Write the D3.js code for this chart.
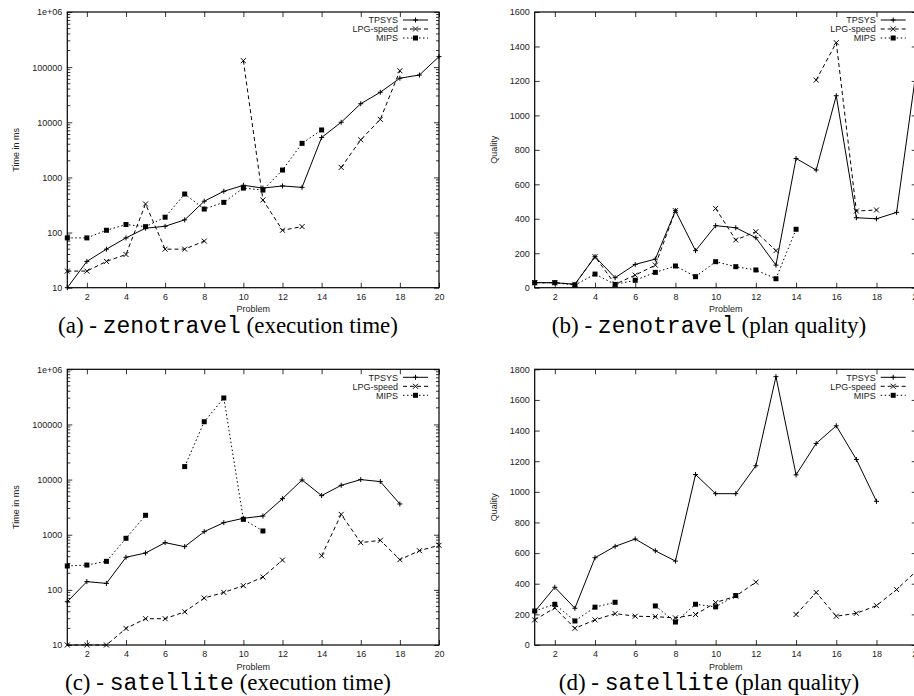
<!DOCTYPE html>
<html><head><meta charset="utf-8">
<script src="https://cdn.jsdelivr.net/npm/d3@7"></script>
<style>
body{margin:0;background:#fff;}
svg{display:block;}
text{font-family:"Liberation Sans",Arial,sans-serif;}
</style></head>
<body><svg id="c" width="914" height="696"></svg>
<script>
const problems = d3.range(1, 21);
const seriesNames = ["TPSYS", "LPG-speed", "MIPS"];
const xTicks = [2,4,6,8,10,12,14,16,18,20];
const logTicks = [10,100,1000,10000,100000,1000000];
const logTickLabels = ["10","100","1000","10000","100000","1e+06"];
const qualityTicksB = [0,200,400,600,800,1000,1200,1400,1600];
const qualityTicksD = [0,200,400,600,800,1000,1200,1400,1600,1800];

// (a) zenotravel execution time (ms)
const zenoTimeTPSYS = [10,30,50,80,120,130,170,370,560,720,640,700,660,5300,10000,21700,35000,63000,72000,155000];
const zenoTimeLPG   = [20,20,30,40,330,50,50,70,null,131000,390,110,128,null,1520,4800,11300,86000,null,null];
const zenoTimeMIPS  = [80,80,110,140,128,190,500,267,353,640,590,1360,4150,7250,null,null,null,null,null,null];

// (b) zenotravel plan quality
const zenoQualTPSYS = [29,29,20,180,58,135,166,447,215,360,348,290,131,750,683,1114,406,400,437,1280];
const zenoQualLPG   = [29,29,20,180,20,73,131,447,null,460,277,325,215,null,1205,1422,445,451,null,null];
const zenoQualMIPS  = [29,29,15,79,19,43,89,126,64,151,122,103,52,339,null,null,null,null,null,null];

// (c) satellite execution time (ms)
const satTimeTPSYS = [61,141,131,390,466,718,608,1137,1657,1983,2188,4510,9840,5120,7870,10000,9190,3610,null,null];
const satTimeLPG   = [10,10,10,20,30,30,40,71,90,119,171,347,null,415,2340,718,791,353,514,643];
const satTimeMIPS  = [271,282,329,861,2250,null,17200,112000,302000,1900,1170,null,null,null,null,null,null,null,null,null];

// (d) satellite plan quality
const satQualTPSYS = [218,377,240,570,644,692,615,548,1113,988,988,1170,1752,1111,1316,1431,1211,938,null,null];
const satQualLPG   = [164,242,109,164,205,188,185,177,199,277,319,410,null,199,343,188,207,257,362,485];
const satQualMIPS  = [222,266,157,247,279,null,255,150,266,249,323,null,null,null,null,null,null,null,null,null];

const svg = d3.select("#c");

const panels = [
  {left:67.3,right:439,top:12,bottom:287.7,log:true,ylabel:"Time in ms",data:[zenoTimeTPSYS,zenoTimeLPG,zenoTimeMIPS],
   cap:["(a) - ","zenotravel"," (execution time)"],capX:228,capY:333},
  {left:534.7,right:916.7,top:12,bottom:287.7,log:false,ymax:1600,yticks:qualityTicksB,ylabel:"Quality",data:[zenoQualTPSYS,zenoQualLPG,zenoQualMIPS],
   cap:["(b) - ","zenotravel"," (plan quality)"],capX:709,capY:333},
  {left:67.3,right:439,top:369.3,bottom:645,log:true,ylabel:"Time in ms",data:[satTimeTPSYS,satTimeLPG,satTimeMIPS],
   cap:["(c) - ","satellite"," (execution time)"],capX:228,capY:690},
  {left:534.7,right:916.7,top:369.3,bottom:645,log:false,ymax:1800,yticks:qualityTicksD,ylabel:"Quality",data:[satQualTPSYS,satQualLPG,satQualMIPS],
   cap:["(d) - ","satellite"," (plan quality)"],capX:709,capY:690}
];

const dashes = [null, "4,3", "1.5,2.5"];

function marker(g, type, x, y) {
  if (type === 0) {
    g.append("path").attr("d", `M${x-2.5},${y}H${x+2.5}M${x},${y-2.5}V${y+2.5}`)
      .attr("stroke","#000").attr("stroke-width",1).attr("fill","none");
  } else if (type === 1) {
    g.append("path").attr("d", `M${x-2.5},${y-2.5}L${x+2.5},${y+2.5}M${x-2.5},${y+2.5}L${x+2.5},${y-2.5}`)
      .attr("stroke","#000").attr("stroke-width",1).attr("fill","none");
  } else {
    g.append("rect").attr("x",x-2.5).attr("y",y-2.5).attr("width",5).attr("height",5).attr("fill","#000");
  }
}

panels.forEach(p => {
  const g = svg.append("g");
  const x = d3.scaleLinear().domain([1,20]).range([p.left,p.right]);
  const y = p.log ? d3.scaleLog().domain([10,1e6]).range([p.bottom,p.top])
                  : d3.scaleLinear().domain([0,p.ymax]).range([p.bottom,p.top]);

  const yTickVals = p.log ? logTicks : p.yticks;
  const yLabelFmt = p.log ? d => logTickLabels[logTicks.indexOf(d)] : d3.format("d");
  const axL = g.append("g").attr("transform",`translate(${p.left},0)`)
    .call(d3.axisLeft(y).tickValues(yTickVals).tickFormat(yLabelFmt).tickSizeInner(-5).tickSizeOuter(0).tickPadding(5));
  const axR = g.append("g").attr("transform",`translate(${p.right},0)`)
    .call(d3.axisRight(y).tickValues(yTickVals).tickFormat("").tickSizeInner(-5).tickSizeOuter(0));
  const axB = g.append("g").attr("transform",`translate(0,${p.bottom})`)
    .call(d3.axisBottom(x).tickValues(xTicks).tickFormat(d3.format("d")).tickSizeInner(-5).tickSizeOuter(0).tickPadding(6));
  const axT = g.append("g").attr("transform",`translate(0,${p.top})`)
    .call(d3.axisTop(x).tickValues(xTicks).tickFormat("").tickSizeInner(-5).tickSizeOuter(0));
  [axL,axR,axB,axT].forEach(a => {
    a.select(".domain").remove();
    a.selectAll("line").attr("stroke","#000").attr("stroke-width",0.8);
    a.selectAll("text").attr("font-size","9px").attr("fill","#222").attr("font-family","Liberation Sans, Arial, sans-serif");
  });
  if (p.log) {
    const minor = [];
    for (let dec = 10; dec < 1e6; dec *= 10) for (let k = 2; k <= 9; k++) minor.push(dec*k);
    [[p.left, 3],[p.right,-3]].forEach(([xx,len]) => {
      g.append("g").selectAll("line").data(minor).join("line")
        .attr("x1",xx).attr("x2",xx+len).attr("y1",d=>y(d)).attr("y2",d=>y(d))
        .attr("stroke","#000").attr("stroke-width",0.8);
    });
  }
  g.append("rect").attr("x",p.left).attr("y",p.top).attr("width",p.right-p.left).attr("height",p.bottom-p.top)
    .attr("fill","none").attr("stroke","#000").attr("stroke-width",1.2);

  g.append("text").attr("x",(p.left+p.right)/2).attr("y",p.bottom+24.5)
    .attr("text-anchor","middle").attr("font-size","9px").attr("fill","#222").text("Problem");
  g.append("text").attr("transform",`translate(${p.log ? p.left-48 : p.left-38},${(p.top+p.bottom)/2}) rotate(-90)`)
    .attr("text-anchor","middle").attr("font-size","9px").attr("fill","#222").text(p.ylabel);

  p.data.forEach((vals, si) => {
    const pts = problems.map((pr,i) => ({pr, v: vals[i]}));
    const line = d3.line().defined(d => d.v != null).x(d => x(d.pr)).y(d => y(d.v));
    g.append("path").datum(pts).attr("d", line).attr("fill","none").attr("stroke","#000")
      .attr("stroke-width", 1).attr("stroke-dasharray", dashes[si]);
    pts.filter(d => d.v != null).forEach(d => marker(g, si, x(d.pr), y(d.v)));
  });

  seriesNames.forEach((name, si) => {
    const ly = p.top + 8 + si*9;
    g.append("text").attr("x",p.right-41).attr("y",ly+3.2).attr("text-anchor","end")
      .attr("font-size","9px").attr("fill","#222").text(name);
    g.append("line").attr("x1",p.right-36).attr("x2",p.right-11).attr("y1",ly).attr("y2",ly)
      .attr("stroke","#000").attr("stroke-width",1).attr("stroke-dasharray",dashes[si]);
    marker(g, si, p.right-23.5, ly);
  });

  const cap = svg.append("text").attr("x",p.capX).attr("y",p.capY).attr("text-anchor","middle")
    .attr("font-size","23px").attr("fill","#000");
  cap.append("tspan").attr("font-family","Liberation Serif, Times New Roman, serif").text(p.cap[0]);
  cap.append("tspan").attr("font-family","Liberation Mono, Courier New, monospace").text(p.cap[1]);
  cap.append("tspan").attr("font-family","Liberation Serif, Times New Roman, serif").text(p.cap[2]);
});
</script></body></html>
